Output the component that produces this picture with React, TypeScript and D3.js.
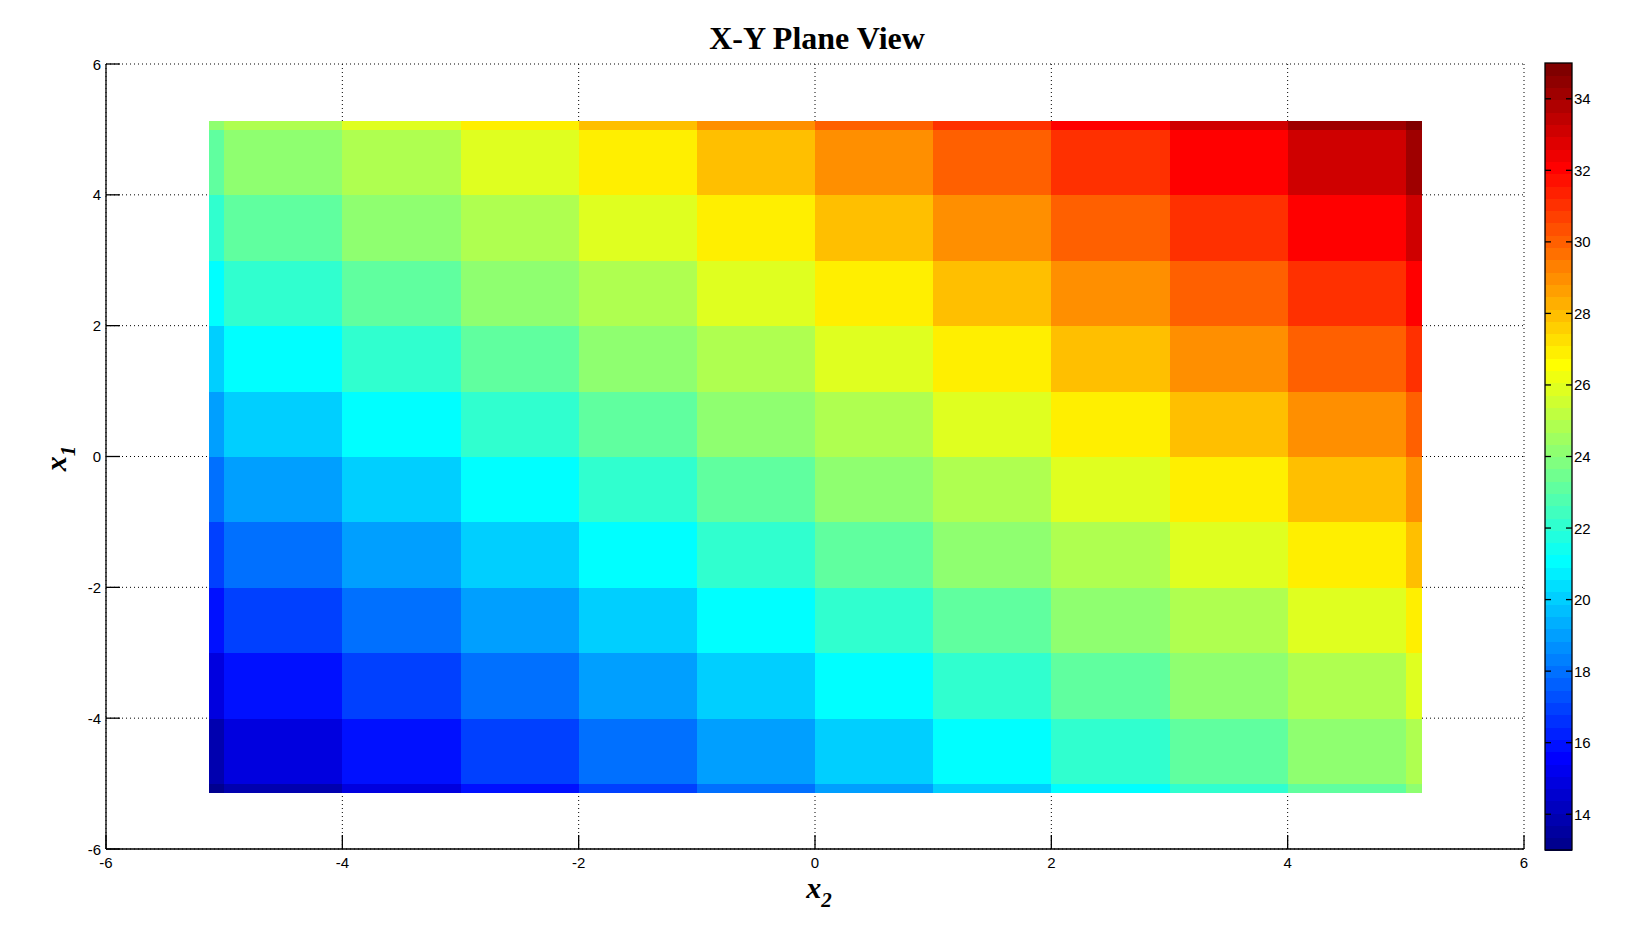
import { useEffect, useRef } from "react";
import * as d3 from "d3";

// grid edges of the surface (x2 horizontal, x1 vertical)
const x2Edges = [-5.13, -5, -4, -3, -2, -1, 0, 1, 2, 3, 4, 5, 5.13];
const x1Edges = [-5.13, -5, -4, -3, -2, -1, 0, 1, 2, 3, 4, 5, 5.13];

// cell values, first row = bottom (x1 lowest), first column = left (x2 lowest)
const zValues = [
  [13, 14, 15, 16, 17, 18, 19, 20, 21, 22, 23, 24],
  [14, 15, 16, 17, 18, 19, 20, 21, 22, 23, 24, 25],
  [15, 16, 17, 18, 19, 20, 21, 22, 23, 24, 25, 26],
  [16, 17, 18, 19, 20, 21, 22, 23, 24, 25, 26, 27],
  [17, 18, 19, 20, 21, 22, 23, 24, 25, 26, 27, 28],
  [18, 19, 20, 21, 22, 23, 24, 25, 26, 27, 28, 29],
  [19, 20, 21, 22, 23, 24, 25, 26, 27, 28, 29, 30],
  [20, 21, 22, 23, 24, 25, 26, 27, 28, 29, 30, 31],
  [21, 22, 23, 24, 25, 26, 27, 28, 29, 30, 31, 32],
  [22, 23, 24, 25, 26, 27, 28, 29, 30, 31, 32, 33],
  [23, 24, 25, 26, 27, 28, 29, 30, 31, 32, 33, 34],
  [24, 25, 26, 27, 28, 29, 30, 31, 32, 33, 34, 35],
];

const axisTicks = [-6, -4, -2, 0, 2, 4, 6];
const colorTicks = [14, 16, 18, 20, 22, 24, 26, 28, 30, 32, 34];
const cLimits = [13, 35];

// matlab jet(64)
function jet64(): string[] {
  const n = 16;
  const u: number[] = [];
  for (let i = 1; i <= n; i++) u.push(i / n);
  for (let i = 0; i < n - 1; i++) u.push(1);
  for (let i = n; i >= 1; i--) u.push(i / n);
  const r = new Array(64).fill(0);
  const g = new Array(64).fill(0);
  const b = new Array(64).fill(0);
  u.forEach((val, k) => {
    const gi = 8 + k + 1;
    const ri = gi + n;
    const bi = gi - n;
    if (gi >= 1 && gi <= 64) g[gi - 1] = val;
    if (ri >= 1 && ri <= 64) r[ri - 1] = val;
    if (bi >= 1 && bi <= 64) b[bi - 1] = val;
  });
  return r.map((_, i) =>
    d3.rgb(r[i] * 255, g[i] * 255, b[i] * 255).formatHex()
  );
}

const JET = jet64();
const colorOf = (v: number) => {
  const idx = Math.floor(((v - cLimits[0]) / (cLimits[1] - cLimits[0])) * 64);
  return JET[Math.max(0, Math.min(63, idx))];
};

const sansFont = "'Liberation Sans', Arial, sans-serif";
const serifFont = "'Liberation Serif', 'Times New Roman', serif";

const PlaneView: React.FC = () => {
  const svgRef = useRef<SVGSVGElement | null>(null);

  useEffect(() => {
    if (!svgRef.current) return;
    const svg = d3.select(svgRef.current);
    svg.selectAll("*").remove();

    const margin = { top: 64, left: 106, right: 1524, bottom: 849 };

    const x = d3.scaleLinear().domain([-6, 6]).range([margin.left, margin.right]);
    const y = d3.scaleLinear().domain([-6, 6]).range([margin.bottom, margin.top]);

    // grid (dotted)
    const grid = svg.append("g");
    axisTicks.forEach((t) => {
      grid
        .append("line")
        .attr("x1", x(t))
        .attr("x2", x(t))
        .attr("y1", margin.top)
        .attr("y2", margin.bottom)
        .attr("stroke", "#000")
        .attr("stroke-width", 1)
        .attr("stroke-dasharray", "1,3");
      grid
        .append("line")
        .attr("x1", margin.left)
        .attr("x2", margin.right)
        .attr("y1", y(t))
        .attr("y2", y(t))
        .attr("stroke", "#000")
        .attr("stroke-width", 1)
        .attr("stroke-dasharray", "1,3");
    });

    // surface cells
    const cells: { x0: number; x1: number; y0: number; y1: number; v: number }[] = [];
    zValues.forEach((row, ri) => {
      row.forEach((v, ci) => {
        cells.push({
          x0: x2Edges[ci],
          x1: x2Edges[ci + 1],
          y0: x1Edges[ri],
          y1: x1Edges[ri + 1],
          v,
        });
      });
    });

    svg
      .append("g")
      .attr("shape-rendering", "crispEdges")
      .selectAll("rect")
      .data(cells)
      .enter()
      .append("rect")
      .attr("x", (d) => x(d.x0))
      .attr("y", (d) => y(d.y1))
      .attr("width", (d) => x(d.x1) - x(d.x0) + 0.5)
      .attr("height", (d) => y(d.y0) - y(d.y1) + 0.5)
      .attr("fill", (d) => colorOf(d.v));

    // axes (box off)
    const axes = svg.append("g").attr("stroke", "#000").attr("stroke-width", 1.3);
    axes
      .append("line")
      .attr("x1", margin.left)
      .attr("x2", margin.right)
      .attr("y1", margin.bottom)
      .attr("y2", margin.bottom);
    axes
      .append("line")
      .attr("x1", margin.left)
      .attr("x2", margin.left)
      .attr("y1", margin.top)
      .attr("y2", margin.bottom);
    axisTicks.forEach((t) => {
      axes
        .append("line")
        .attr("x1", x(t))
        .attr("x2", x(t))
        .attr("y1", margin.bottom)
        .attr("y2", margin.bottom - 14);
      axes
        .append("line")
        .attr("x1", margin.left)
        .attr("x2", margin.left + 14)
        .attr("y1", y(t))
        .attr("y2", y(t));
    });

    svg
      .append("g")
      .selectAll("text")
      .data(axisTicks)
      .enter()
      .append("text")
      .attr("x", (d) => x(d))
      .attr("y", margin.bottom + 19)
      .attr("text-anchor", "middle")
      .style("font-family", sansFont)
      .style("font-size", "15px")
      .text((d) => String(d));

    svg
      .append("g")
      .selectAll("text")
      .data(axisTicks)
      .enter()
      .append("text")
      .attr("x", margin.left - 5)
      .attr("y", (d) => y(d) + 5.5)
      .attr("text-anchor", "end")
      .style("font-family", sansFont)
      .style("font-size", "15px")
      .text((d) => String(d));

    // title
    svg
      .append("text")
      .attr("x", (margin.left + margin.right) / 2 + 2)
      .attr("y", 49)
      .attr("text-anchor", "middle")
      .style("font-family", serifFont)
      .style("font-weight", "bold")
      .style("font-size", "32px")
      .text("X-Y Plane View");

    // x label
    const xl = svg
      .append("text")
      .attr("x", (margin.left + margin.right) / 2 + 4)
      .attr("y", 898)
      .attr("text-anchor", "middle")
      .style("font-family", serifFont)
      .style("font-weight", "bold")
      .style("font-style", "italic")
      .style("font-size", "30px");
    xl.append("tspan").text("x");
    xl.append("tspan").attr("dy", 9).style("font-size", "21px").text("2");

    // y label
    const yl = svg
      .append("text")
      .attr("transform", `translate(66,${(margin.top + margin.bottom) / 2 + 2}) rotate(-90)`)
      .attr("text-anchor", "middle")
      .style("font-family", serifFont)
      .style("font-weight", "bold")
      .style("font-style", "italic")
      .style("font-size", "30px");
    yl.append("tspan").text("x");
    yl.append("tspan").attr("dy", 9).style("font-size", "21px").text("1");

    // colorbar
    const cb = { left: 1545, right: 1572, top: 63, bottom: 850 };
    const cy = d3.scaleLinear().domain(cLimits).range([cb.bottom, cb.top]);
    const bandStep = (cLimits[1] - cLimits[0]) / 64;
    svg
      .append("g")
      .attr("shape-rendering", "crispEdges")
      .selectAll("rect")
      .data(JET)
      .enter()
      .append("rect")
      .attr("x", cb.left)
      .attr("width", cb.right - cb.left)
      .attr("y", (_, i) => cy(cLimits[0] + (i + 1) * bandStep))
      .attr("height", (_, i) => cy(cLimits[0] + i * bandStep) - cy(cLimits[0] + (i + 1) * bandStep) + 0.6)
      .attr("fill", (d) => d);

    svg
      .append("rect")
      .attr("x", cb.left)
      .attr("y", cb.top)
      .attr("width", cb.right - cb.left)
      .attr("height", cb.bottom - cb.top)
      .attr("fill", "none")
      .attr("stroke", "#000")
      .attr("stroke-width", 1.3);

    const cbTicks = svg.append("g").attr("stroke", "#000").attr("stroke-width", 1.3);
    colorTicks.forEach((t) => {
      cbTicks
        .append("line")
        .attr("x1", cb.left)
        .attr("x2", cb.left + 6)
        .attr("y1", cy(t))
        .attr("y2", cy(t));
      cbTicks
        .append("line")
        .attr("x1", cb.right - 6)
        .attr("x2", cb.right)
        .attr("y1", cy(t))
        .attr("y2", cy(t));
    });

    svg
      .append("g")
      .selectAll("text")
      .data(colorTicks)
      .enter()
      .append("text")
      .attr("x", cb.right + 2)
      .attr("y", (d) => cy(d) + 5.5)
      .style("font-family", sansFont)
      .style("font-size", "15px")
      .text((d) => String(d));
  }, []);

  return (
    <svg
      ref={svgRef}
      width={1632}
      height={945}
      style={{ position: "absolute", left: 0, top: 0, background: "#fff" }}
    ></svg>
  );
};

export default function App() {
  return <PlaneView />;
}
